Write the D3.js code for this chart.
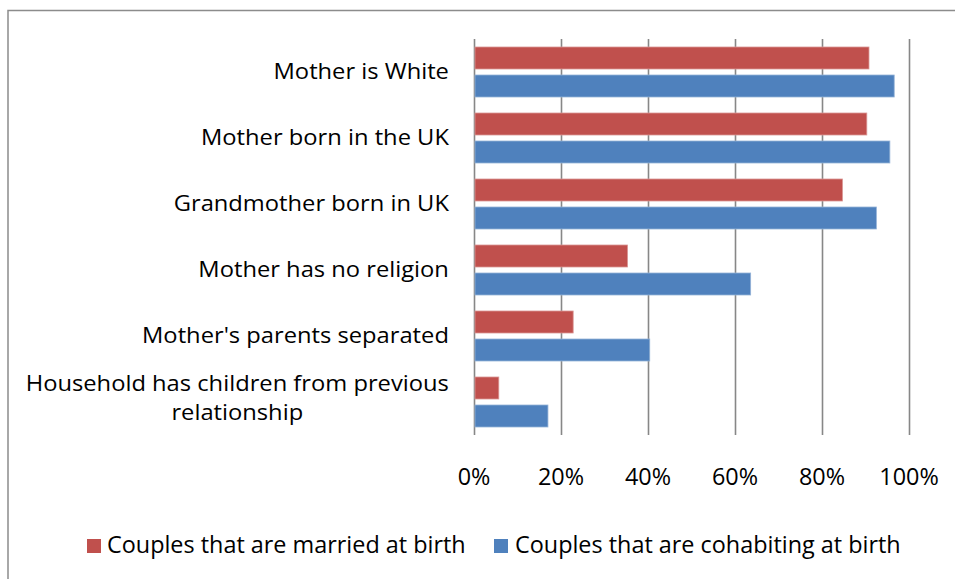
<!DOCTYPE html>
<html>
<head>
<meta charset="utf-8">
<script src="https://cdn.jsdelivr.net/npm/d3@7/dist/d3.min.js"></script>
<style>
  html, body { margin: 0; padding: 0; background: #fff; }
  svg { display: block; }
  text { font-family: "Open Sans", "Noto Sans", sans-serif; fill: #000; }
</style>
</head>
<body>
<svg id="chart" width="955" height="579"></svg>
<script>
// ---- data ----
const categories = [
  "Mother is White",
  "Mother born in the UK",
  "Grandmother born in UK",
  "Mother has no religion",
  "Mother's parents separated",
  "Household has children from previous relationship"
];
const seriesNames = ["Couples that are married at birth", "Couples that are cohabiting at birth"];
const married    = [90.8, 90.3, 84.7, 35.3, 22.8, 5.7];
const cohabiting = [96.6, 95.6, 92.5, 63.6, 40.4, 17.0];
const tickValues = [0, 20, 40, 60, 80, 100];
const tickLabels = ["0%", "20%", "40%", "60%", "80%", "100%"];
const colors = ["#C0504D", "#4F81BD"];
const strokes = ["#D99694", "#95B3D7"];

const seriesValues = [married, cohabiting];

const svg = d3.select("#chart");

// chart border
svg.append("path")
  .attr("d", "M8,579 L8,10.5 L955,10.5")
  .attr("fill", "none")
  .attr("stroke", "#8c8c8c")
  .attr("stroke-width", 1.5);

const x = d3.scaleLinear().domain([0, 100]).range([474, 909]);
const y = d3.scaleBand().domain(categories).range([39, 435]).paddingInner(0).paddingOuter(0);
const ySub = d3.scaleBand().domain(seriesNames).range([0, y.bandwidth()])
  .paddingInner(6 / 28).paddingOuter(8 / 28);

// gridlines
svg.append("g").selectAll("line")
  .data(tickValues)
  .join("line")
  .attr("x1", d => Math.round(x(d)) + 0.5)
  .attr("x2", d => Math.round(x(d)) + 0.5)
  .attr("y1", y.range()[0])
  .attr("y2", y.range()[1])
  .attr("stroke", "#878787")
  .attr("stroke-width", 1.6);

// bars
const rows = categories.map((c, i) => ({ c, vals: seriesNames.map((s, j) => ({ s, j, v: seriesValues[j][i] })) }));
const g = svg.append("g").selectAll("g")
  .data(rows)
  .join("g")
  .attr("transform", d => `translate(0,${y(d.c)})`);
g.selectAll("rect")
  .data(d => d.vals)
  .join("rect")
  .attr("x", x(0) + 1)
  .attr("y", d => ySub(d.s))
  .attr("width", d => x(d.v) - x(0) - 1)
  .attr("height", ySub.bandwidth())
  .attr("fill", d => colors[d.j])
  .attr("stroke", d => strokes[d.j])
  .attr("stroke-width", 0.8);

// x tick labels
svg.append("g").selectAll("text")
  .data(tickValues)
  .join("text")
  .attr("x", d => x(d))
  .attr("y", 485)
  .attr("text-anchor", "middle")
  .style("font-size", "23.4px")
  .text((d, i) => tickLabels[i]);

// category labels (wrapped, block right-aligned, lines centered)
const catFont = 21, sx = 1.13, lineH = 29.5, capHalf = 7.3, rightEdge = 449, maxW = 460;
const measure = svg.append("text").style("font-size", catFont + "px");
function wrap(label) {
  const words = label.split(" ");
  const lines = [];
  let cur = "";
  words.forEach(w => {
    const t = cur ? cur + " " + w : w;
    measure.text(t);
    if (measure.node().getComputedTextLength() * sx > maxW && cur) { lines.push(cur); cur = w; }
    else cur = t;
  });
  lines.push(cur);
  return lines;
}
categories.forEach(c => {
  const lines = wrap(c);
  const widths = lines.map(l => { measure.text(l); return measure.node().getComputedTextLength() * sx; });
  const bw = d3.max(widths);
  const cx = rightEdge - bw / 2;
  const cy = y(c) + y.bandwidth() / 2;
  const n = lines.length;
  lines.forEach((l, i) => {
    const by = cy + capHalf + (i - (n - 1) / 2) * lineH - (n - 1) * 4;
    svg.append("text")
      .attr("transform", `translate(${cx},${by}) scale(${sx},1)`)
      .attr("text-anchor", "middle")
      .style("font-size", catFont + "px")
      .text(l);
  });
});
measure.remove();

// legend
const legendItems = [{ name: seriesNames[0], sqX: 87, txX: 107 }, { name: seriesNames[1], sqX: 494, txX: 515 }];
const lg = svg.append("g").selectAll("g").data(legendItems).join("g");
lg.append("rect")
  .attr("x", d => d.sqX).attr("y", 539)
  .attr("width", 14).attr("height", 14)
  .attr("fill", (d, i) => colors[i]);
lg.append("text")
  .attr("x", d => d.txX).attr("y", 553)
  .style("font-size", "23.4px")
  .text(d => d.name);
</script>
</body>
</html>
